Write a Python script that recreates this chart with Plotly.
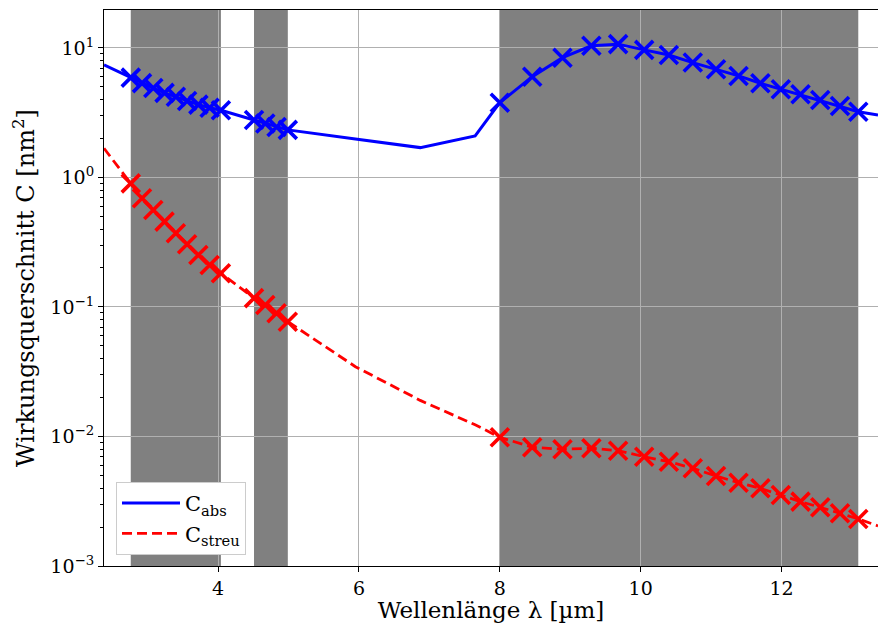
import plotly.graph_objects as go
import numpy as np

# ---- data ----
band1_x = [2.76, 2.92, 3.08, 3.24, 3.40, 3.56, 3.72, 3.88, 4.04]
band1_abs = [5.9, 5.35, 4.9, 4.5, 4.2, 3.9, 3.65, 3.45, 3.3]
band1_streu = [0.90, 0.69, 0.56, 0.456, 0.371, 0.305, 0.252, 0.211, 0.182]

band2_x = [4.51, 4.67, 4.83, 4.99]
band2_abs = [2.78, 2.61, 2.45, 2.33]
band2_streu = [0.117, 0.1035, 0.0893, 0.077]

band3_x = [8.0, 8.46, 8.89, 9.30, 9.68, 10.05, 10.40, 10.74, 11.07, 11.39,
           11.70, 11.99, 12.27, 12.55, 12.83, 13.09]
band3_abs = [3.78, 6.0, 8.41, 10.4, 10.7, 9.66, 8.83, 7.71, 6.85, 6.08,
             5.34, 4.80, 4.39, 3.96, 3.56, 3.22]
band3_streu = [0.00986, 0.00826, 0.00797, 0.00811, 0.00777, 0.00698, 0.00639,
               0.00568, 0.00495, 0.00440, 0.00398, 0.00353, 0.00314, 0.00284,
               0.00255, 0.00231]

extra_x = [2.38, 5.95, 6.87, 7.65, 13.37]
extra_abs = [7.39, 1.98, 1.70, 2.09, 3.04]
extra_streu = [1.68, 0.0346, 0.019, 0.0123, 0.00204]

ytick_vals = [1e-3, 1e-2, 1e-1, 1e0, 1e1]
ytick_text = ["10<sup>−3</sup>", "10<sup>−2</sup>", "10<sup>−1</sup>",
              "10<sup>0</sup>", "10<sup>1</sup>"]
xtick_vals = [4, 6, 8, 10, 12]

# ---- assemble ----
bands_x = [band1_x, band2_x, band3_x]
mk_x = band1_x + band2_x + band3_x
mk_abs = band1_abs + band2_abs + band3_abs
mk_streu = band1_streu + band2_streu + band3_streu

all_x = mk_x + extra_x
all_abs = mk_abs + extra_abs
all_streu = mk_streu + extra_streu
order = np.argsort(all_x)
lx = [all_x[i] for i in order]
labs = [all_abs[i] for i in order]
lstreu = [all_streu[i] for i in order]

FONT = "DejaVu Serif"
fig = go.Figure()

fig.add_trace(go.Scatter(x=lx, y=labs, mode="lines", name="C<sub>abs</sub>",
                         line=dict(color="#0000ff", width=3)))
fig.add_trace(go.Scatter(x=lx, y=lstreu, mode="lines", name="C<sub>streu</sub>",
                         line=dict(color="#ff0000", width=2.8, dash="10px,5px")))
fig.add_trace(go.Scatter(x=mk_x, y=mk_abs, mode="markers", showlegend=False,
                         marker=dict(symbol="x-thin", size=18,
                                     line=dict(color="#0000ff", width=3.6))))
fig.add_trace(go.Scatter(x=mk_x, y=mk_streu, mode="markers", showlegend=False,
                         marker=dict(symbol="x-thin", size=18,
                                     line=dict(color="#ff0000", width=3.6))))

for bx in bands_x:
    fig.add_shape(type="rect", xref="x", yref="paper", x0=min(bx), x1=max(bx),
                  y0=0, y1=1, fillcolor="#808080", line=dict(width=0),
                  layer="below")

minor_vals = [k * 10.0 ** e for e in range(-3, 2) for k in range(2, 10)]

fig.update_layout(
    width=878, height=623,
    margin=dict(l=104, r=0, t=10, b=57),
    paper_bgcolor="white", plot_bgcolor="white",
    font=dict(family=FONT, size=19, color="black"),
    showlegend=True,
    legend=dict(x=0.0155, y=0.02, xanchor="left", yanchor="bottom",
                bgcolor="white", bordercolor="#cccccc", borderwidth=1,
                itemwidth=58, tracegroupgap=4,
                font=dict(family=FONT, size=21)),
    xaxis=dict(range=[2.38, 13.37], tickvals=xtick_vals, automargin=False,
               showgrid=True, gridcolor="#b0b0b0", gridwidth=1,
               zeroline=False, showline=True, linecolor="black", linewidth=1.2,
               mirror=True, ticks="outside", ticklen=5, tickcolor="black",
               title=dict(text="Wellenlänge λ [µm]", font=dict(size=23), standoff=4)),
    yaxis=dict(type="log", range=[-3, 1.293], tickvals=ytick_vals, ticktext=ytick_text,
               automargin=False,
               showgrid=True, gridcolor="#b0b0b0", gridwidth=1,
               zeroline=False, showline=True, linecolor="black", linewidth=1.2,
               ticks="outside", ticklen=5, tickcolor="black",
               minor=dict(tickvals=minor_vals, ticks="outside", ticklen=3,
                          tickcolor="black", showgrid=False),
               title=dict(text="Wirkungsquerschnitt C [nm<sup>2</sup>]",
                          font=dict(size=24), standoff=8)),
)

fig.write_html(
    "out.html",
    config={"displayModeBar": False},
    post_script="document.body.style.margin='0';document.body.style.overflow='hidden';",
)
